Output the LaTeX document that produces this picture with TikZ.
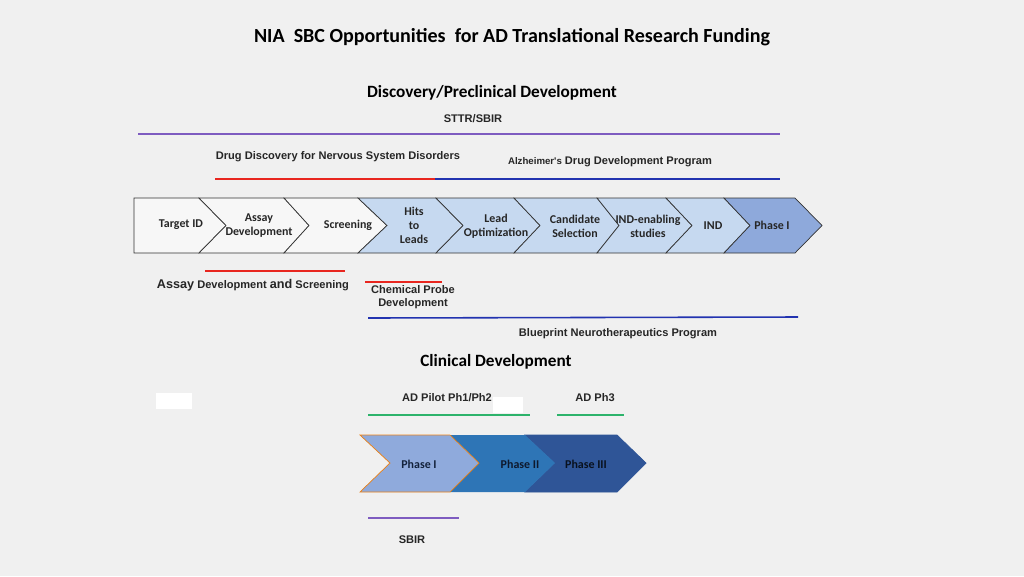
\documentclass[tikz,border=0pt]{standalone}
\usepackage{fontspec}
\setmainfont{Carlito}
\newfontfamily\arialfont{Liberation Sans}
\usetikzlibrary{positioning}
\definecolor{bgc}{HTML}{F0F0F0}
\definecolor{chwhite}{HTML}{F7F7F7}
\definecolor{chlight}{HTML}{C6D9F0}
\definecolor{chmid}{HTML}{8EA9DB}
\definecolor{phone}{HTML}{8FAADC}
\definecolor{phtwo}{HTML}{2E75B6}
\definecolor{phthree}{HTML}{2F5597}
\definecolor{lpurple}{HTML}{7E5CC0}
\definecolor{lred}{HTML}{E8261F}
\definecolor{lblue}{HTML}{2233B0}
\definecolor{lgreen}{HTML}{2DB36B}
\begin{document}
\begin{tikzpicture}[x=0.02cm, y=-0.02cm, font=\bfseries]
\tikzset{
  chev/.style={draw=black!80, line width=0.4pt},
  chtext/.style={font=\fontsize{6.8}{8}\selectfont\bfseries, align=center, text=black!85},
  lbl/.style={font=\arialfont\fontsize{6.3}{7.5}\selectfont\bfseries, align=center, text=black!85},
  rule/.style={line width=0.9pt}
}
\fill[bgc] (0,0) rectangle (1024,576);

\node[font=\fontsize{11.4}{13}\selectfont\bfseries] (title) at (512,37) {NIA\ \ SBC Opportunities\ \ for AD Translational Research Funding};
\node[font=\fontsize{9.8}{12}\selectfont\bfseries] (disc) at (492,93) {Discovery/Preclinical Development};
\node[lbl] (sttr) at (473,119) {STTR/SBIR};
\draw[rule, lpurple] (138,134) -- (780,134);

\node[lbl] (ddn) at (338,157) {Drug Discovery for Nervous System Disorders};
\node[lbl] (adp) at (610,162) {{\fontsize{5.5}{7}\selectfont Alzheimer's} Drug Development Program};
\draw[rule, lred] (215,179) -- (435,179);
\draw[rule, lblue] (435,179) -- (780,179);

% discovery chevrons
\draw[chev, fill=chwhite] (134,198) -- (199,198) -- (226,225.5) -- (199,253) -- (134,253) -- cycle;
\draw[chev, fill=chwhite] (199,198) -- (284,198) -- (309,225.5) -- (284,253) -- (199,253) -- (226,225.5) -- cycle;
\draw[chev, fill=chwhite] (284,198) -- (358,198) -- (387,225.5) -- (358,253) -- (284,253) -- (309,225.5) -- cycle;
\draw[chev, fill=chlight] (358,198) -- (436,198) -- (463,225.5) -- (436,253) -- (358,253) -- (387,225.5) -- cycle;
\draw[chev, fill=chlight] (436,198) -- (514,198) -- (540,225.5) -- (514,253) -- (436,253) -- (463,225.5) -- cycle;
\draw[chev, fill=chlight] (514,198) -- (597,198) -- (619,225.5) -- (597,253) -- (514,253) -- (540,225.5) -- cycle;
\draw[chev, fill=chlight] (597,198) -- (666,198) -- (692,225.5) -- (666,253) -- (597,253) -- (619,225.5) -- cycle;
\draw[chev, fill=chlight] (666,198) -- (724,198) -- (750,225.5) -- (724,253) -- (666,253) -- (692,225.5) -- cycle;
\draw[chev, fill=chmid] (724,198) -- (795,198) -- (822,225.5) -- (795,253) -- (724,253) -- (750,225.5) -- cycle;

\node[chtext] (tid) at (181,225) {Target ID};
\node[chtext] (assay) at (259,226) {Assay\\Development};
\node[chtext] (scr) at (348,225) {Screening};
\node[chtext] (hits) at (414,225) {Hits\\to\\Leads};
\node[chtext] (lead) at (496,226) {Lead\\Optimization};
\node[chtext] (cand) at (575,226) {Candidate\\Selection};
\node[chtext] (inde) at (648,226) {IND-enabling\\studies};
\node[chtext] (ind) at (713,226) {IND};
\node[chtext] (ph1) at (772,225) {Phase I};

\draw[rule, lred] (205,271) -- (345,271);
\draw[rule, lred] (365,282) -- (442,282);
\node[lbl] (ads) at (253,285) {{\fontsize{7.2}{8}\selectfont Assay} Development {\fontsize{7.2}{8}\selectfont and} Screening};
\node[lbl] (cpd) at (413,297) {Chemical Probe\\Development};
\draw[rule, lblue] (368,318) -- (798,317);
\node[lbl] (bnp) at (618,334) {Blueprint Neurotherapeutics Program};

\node[font=\fontsize{9.8}{12}\selectfont\bfseries] (clin) at (496,362) {Clinical Development};
\fill[white] (156,393) rectangle (192,409);
\fill[white] (493,397) rectangle (523,413);
\node[lbl] (pilot) at (447,398) {AD Pilot Ph1/Ph2};
\node[lbl] (ph3l) at (595,398) {AD Ph3};
\draw[rule, lgreen] (368,415) -- (530,415);
\draw[rule, lgreen] (557,415) -- (624,415);

% clinical chevrons
\draw[draw=phthree, fill=phthree] (525,435) -- (617,435) -- (646,463) -- (617,492) -- (525,492) -- (555,463) -- cycle;
\fill[phtwo] (450,435) -- (525,435) -- (555,463) -- (525,492) -- (450,492) -- (479,463) -- cycle;
\draw[draw=orange!70!brown, fill=phone] (360,435) -- (450,435) -- (479,463) -- (450,492) -- (360,492) -- (390,463) -- cycle;
\node[chtext, text=phthree!40!black] (cph1) at (419,464) {Phase I};
\node[chtext, text=phthree!30!black] (cph2) at (520,464) {Phase II};
\node[chtext, text=phthree!20!black] (cph3) at (586,464) {Phase III};

\draw[rule, lpurple] (368,518) -- (459,518);
\node[lbl] (sbir) at (412,540) {SBIR};
\end{tikzpicture}
\end{document}
